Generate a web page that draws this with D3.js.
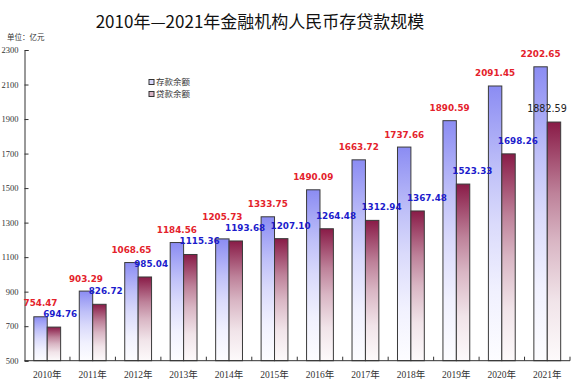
<!DOCTYPE html>
<html>
<head>
<meta charset="utf-8">
<script src="https://cdn.jsdelivr.net/npm/d3@7"></script>
<style>
  body { margin: 0; background: #fff; }
  svg { display: block; }
</style>
</head>
<body>
<svg width="571" height="385"></svg>
<script>
// datos del gráfico
const years = ["2010年", "2011年", "2012年", "2013年", "2014年", "2015年",
               "2016年", "2017年", "2018年", "2019年", "2020年", "2021年"];
const deposits = [754.47, 903.29, 1068.65, 1184.56, 1205.73, 1333.75,
                  1490.09, 1663.72, 1737.66, 1890.59, 2091.45, 2202.65];
const loans = [694.76, 826.72, 985.04, 1115.36, 1193.68, 1207.10,
               1264.48, 1312.94, 1367.48, 1523.33, 1698.26, 1882.59];
const yTicks = [500, 700, 900, 1100, 1300, 1500, 1700, 1900, 2100, 2300];
const seriesNames = ["存款余额", "贷款余额"];

const svg = d3.select("svg");
const serif = "'Liberation Serif', 'DejaVu Serif', 'Noto Sans CJK SC', serif";
const cjk = "'Noto Sans CJK SC', sans-serif";

// gradientes de las barras (se aclaran rápido hacia abajo)
const defs = svg.append("defs");
const fade = [[0, 1], [0.3, 0.55], [0.5, 0.32], [0.75, 0.12], [1, 0.02]];
function gradient(id, top) {
  const mix = d3.interpolateRgb("#ffffff", top);
  const g = defs.append("linearGradient").attr("id", id)
    .attr("x1", 0).attr("y1", 0).attr("x2", 0).attr("y2", 1);
  fade.forEach(s => g.append("stop")
    .attr("offset", s[0]).attr("stop-color", mix(s[1])));
}
gradient("gDep", "#8b8cf3");
gradient("gLoan", "#891b47");

// escalas
const y = d3.scaleLinear().domain([500, 2300]).range([360.7, 50]);
const x = d3.scaleBand().domain(years).range([24.5, 570])
  .paddingInner(0.41).paddingOuter(0.205);
const xs = d3.scaleBand().domain([0, 1]).range([0, x.bandwidth()]);

// título
svg.append("text")
  .attr("x", 260).attr("y", 28)
  .attr("text-anchor", "middle")
  .style("font-family", cjk).style("font-size", "17px").style("fill", "#111")
  .text("2010年—2021年金融机构人民币存贷款规模");

svg.append("text")
  .attr("x", 7).attr("y", 39.5)
  .style("font-family", cjk).style("font-size", "7.5px").style("fill", "#333")
  .text("单位：亿元");

// eje y
const yAxis = svg.append("g")
  .attr("transform", "translate(24.5,0)")
  .call(d3.axisLeft(y).tickValues(yTicks).tickFormat(d3.format("d"))
    .tickSize(-4).tickPadding(6));
yAxis.select(".domain").attr("stroke", "#333");
yAxis.selectAll("line").attr("stroke", "#333");
yAxis.selectAll("text")
  .style("font-family", serif).style("font-size", "8.5px").style("fill", "#333");

// barras
const bars = svg.append("g");
const groups = bars.selectAll(".year")
  .data(years)
  .enter().append("g")
  .attr("class", "year")
  .attr("transform", d => `translate(${x(d)},0)`);

groups.append("rect")
  .attr("x", xs(0)).attr("width", xs.bandwidth())
  .attr("y", (d, i) => y(deposits[i]))
  .attr("height", (d, i) => y(500) - y(deposits[i]))
  .attr("fill", "url(#gDep)").attr("stroke", "#3a3a3a").attr("stroke-width", 1);

groups.append("rect")
  .attr("x", xs(1)).attr("width", xs.bandwidth())
  .attr("y", (d, i) => y(loans[i]))
  .attr("height", (d, i) => y(500) - y(loans[i]))
  .attr("fill", "url(#gLoan)").attr("stroke", "#3a3a3a").attr("stroke-width", 1);

// etiquetas encima de todas las barras
const last = years.length - 1;
const loanBase = i => y(loans[i]) - 10;
const depBase = i => Math.min(y(deposits[i]) - 9.5, loanBase(i) - 11);
const labels = svg.append("g");

labels.selectAll(".dep")
  .data(years)
  .enter().append("text")
  .attr("x", d => x(d) + xs(0) + xs.bandwidth() / 2)
  .attr("y", (d, i) => depBase(i))
  .attr("text-anchor", "middle")
  .style("font-family", "'DejaVu Sans', sans-serif").style("font-weight", "bold")
  .style("font-size", "8.8px").style("fill", "#e4222b")
  .text((d, i) => deposits[i].toFixed(2));

labels.selectAll(".loan")
  .data(years)
  .enter().append("text")
  .attr("x", (d, i) => x(d) + (i === last ? xs(1) + xs.bandwidth() / 2 - 7 : xs(1) - 4))
  .attr("y", (d, i) => loanBase(i))
  .attr("text-anchor", (d, i) => i === last ? "middle" : "start")
  .style("font-family", "'DejaVu Sans', sans-serif")
  .style("font-weight", (d, i) => i === last ? "normal" : "bold")
  .style("font-size", (d, i) => i === last ? "9.6px" : "8.8px")
  .style("fill", (d, i) => i === last ? "#222" : "#1c1ccc")
  .text((d, i) => loans[i].toFixed(2));

// eje x
const axisY = y(500);
svg.append("line")
  .attr("x1", 24.5).attr("x2", 570).attr("y1", axisY).attr("y2", axisY)
  .attr("stroke", "#333");
svg.selectAll(".xtick")
  .data(years)
  .enter().append("line")
  .attr("class", "xtick")
  .attr("x1", d => x(d) + x.bandwidth() + x.step() * x.paddingInner() / 2)
  .attr("x2", d => x(d) + x.bandwidth() + x.step() * x.paddingInner() / 2)
  .attr("y1", axisY).attr("y2", axisY - 4)
  .attr("stroke", "#333");
svg.selectAll(".xlabel")
  .data(years)
  .enter().append("text")
  .attr("class", "xlabel")
  .attr("x", d => x(d) + x.bandwidth() / 2)
  .attr("y", 377.5)
  .attr("text-anchor", "middle")
  .style("font-family", serif).style("font-size", "9.5px").style("fill", "#333")
  .text(d => d);

// leyenda
const legend = svg.selectAll(".legend")
  .data(seriesNames)
  .enter().append("g")
  .attr("class", "legend")
  .attr("transform", (d, i) => `translate(149,${79.5 + i * 12})`);
legend.append("rect")
  .attr("width", 5).attr("height", 5)
  .attr("fill", (d, i) => i === 0 ? "#d8d8fb" : "#d9b3c3")
  .attr("stroke", "#333").attr("stroke-width", 1);
legend.append("text")
  .attr("x", 7).attr("y", 5.5)
  .style("font-family", cjk).style("font-size", "8.5px").style("fill", "#333")
  .text(d => d);
</script>
</body>
</html>
